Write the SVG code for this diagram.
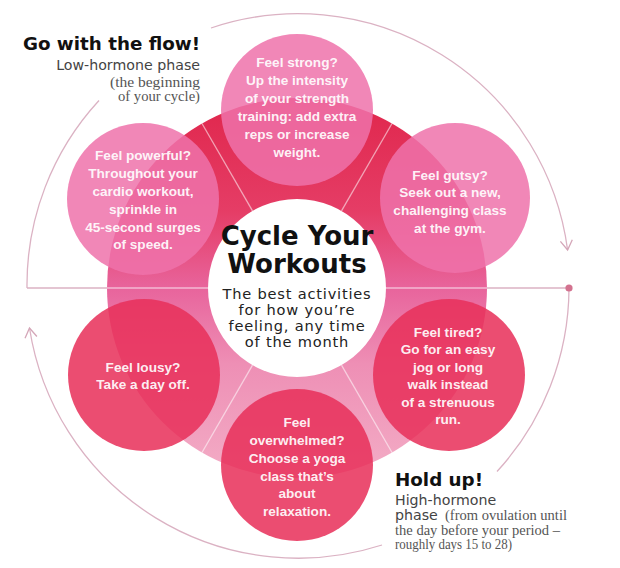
<svg xmlns="http://www.w3.org/2000/svg" width="620" height="568" viewBox="0 0 620 568">
<style>
.ct{font-family:"Liberation Sans",Arial,sans-serif;font-weight:bold;font-size:13.6px;fill:#fff;fill-opacity:0.93;text-anchor:middle}
.hd{font-family:"DejaVu Sans",sans-serif;font-weight:bold;font-size:18.3px;fill:#111}
.sb{font-family:"DejaVu Sans",sans-serif;font-size:14.2px;fill:#444}
.sf{font-family:"Liberation Serif","Times New Roman",serif;font-size:13.6px;fill:#555}
.arc{fill:none;stroke:#dbb2c3;stroke-width:1.3}
.rl{stroke:#ffffff;stroke-opacity:0.55;stroke-width:1.3}
.up{fill:#ee72aa;fill-opacity:0.85}
.lo{fill:#e8305a;fill-opacity:0.86}
.mt{font-family:"DejaVu Sans",sans-serif;font-weight:bold;font-size:26px;fill:#111;text-anchor:middle}
.ms{font-family:"DejaVu Sans",sans-serif;font-size:14.6px;letter-spacing:0.8px;fill:#222;text-anchor:middle}
</style>
<defs>
<linearGradient id="ringG" gradientUnits="userSpaceOnUse" x1="0" y1="98" x2="0" y2="478">
<stop offset="0" stop-color="#e0264c"/>
<stop offset="0.3" stop-color="#e53d66"/>
<stop offset="0.5" stop-color="#e8649c"/>
<stop offset="0.7" stop-color="#ee8fb5"/>
<stop offset="1" stop-color="#f3adc6"/>
</linearGradient>
<marker id="arr" viewBox="-11 -7 13 14" refX="0" refY="0" markerWidth="13" markerHeight="14" orient="auto" markerUnits="userSpaceOnUse">
<path d="M-9.5,-6 L0,0 L-9.5,6" fill="none" stroke="#d4a6b8" stroke-width="1.3"/>
</marker>
</defs>
<rect width="620" height="568" fill="#fff"/>

<g id="connectors">
<path class="arc" d="M27 288 A272 272 0 0 1 99 100.5"/>
<path class="arc" d="M211 28 A272 272 0 0 1 567.6 250" marker-end="url(#arr)"/>
<path class="arc" d="M569 288 A272 272 0 0 1 497 471.5"/>
<path class="arc" d="M382 545 A272 272 0 0 1 29.5 328" marker-end="url(#arr)"/>
<line class="arc" x1="27" y1="288" x2="107" y2="288"/>
<line class="arc" x1="487" y1="288" x2="569" y2="288"/>
<circle cx="569" cy="288" r="3.6" fill="#d3728f"/>
</g>

<g id="ring">
<circle cx="297" cy="288" r="190" fill="url(#ringG)"/>
<line class="rl" x1="341.5" y1="210.9" x2="392" y2="123.5"/>
<line class="rl" x1="252.5" y1="210.9" x2="202" y2="123.5"/>
<line class="rl" x1="252.5" y1="365.1" x2="202" y2="452.5"/>
<line class="rl" x1="341.5" y1="365.1" x2="392" y2="452.5"/>
<line class="rl" x1="107" y1="288" x2="208" y2="288"/>
<line class="rl" x1="386" y1="288" x2="487" y2="288"/>
</g>

<g id="node-strong">
<circle class="up" cx="297" cy="110" r="76"/>
<text class="ct"><tspan x="297" y="67">Feel strong?</tspan><tspan x="297" y="85">Up the intensity</tspan><tspan x="297" y="103">of your strength</tspan><tspan x="297" y="121">training: add extra</tspan><tspan x="297" y="139">reps or increase</tspan><tspan x="297" y="157">weight.</tspan></text>
</g>

<g id="node-gutsy">
<circle class="up" cx="455" cy="198" r="75"/>
<text class="ct"><tspan x="450" y="180">Feel gutsy?</tspan><tspan x="450" y="197">Seek out a new,</tspan><tspan x="450" y="215">challenging class</tspan><tspan x="450" y="233">at the gym.</tspan></text>
</g>

<g id="node-powerful">
<circle class="up" cx="143" cy="199" r="76"/>
<text class="ct"><tspan x="143" y="160">Feel powerful?</tspan><tspan x="143" y="178">Throughout your</tspan><tspan x="143" y="196">cardio workout,</tspan><tspan x="143" y="214">sprinkle in</tspan><tspan x="143" y="232">45-second surges</tspan><tspan x="143" y="249">of speed.</tspan></text>
</g>

<g id="node-lousy">
<circle class="lo" cx="144" cy="375" r="76"/>
<text class="ct"><tspan x="143" y="372">Feel lousy?</tspan><tspan x="143" y="389">Take a day off.</tspan></text>
</g>

<g id="node-overwhelmed">
<circle class="lo" cx="297" cy="465" r="76"/>
<text class="ct"><tspan x="297" y="427">Feel</tspan><tspan x="297" y="445">overwhelmed?</tspan><tspan x="297" y="463">Choose a yoga</tspan><tspan x="297" y="481">class that’s</tspan><tspan x="297" y="498">about</tspan><tspan x="297" y="516">relaxation.</tspan></text>
</g>

<g id="node-tired">
<circle class="lo" cx="449" cy="375" r="76"/>
<text class="ct"><tspan x="448" y="337">Feel tired?</tspan><tspan x="448" y="354">Go for an easy</tspan><tspan x="448" y="372">jog or long</tspan><tspan x="448" y="389">walk instead</tspan><tspan x="448" y="407">of a strenuous</tspan><tspan x="448" y="424">run.</tspan></text>
</g>

<g id="node-center">
<circle cx="297" cy="288" r="89" fill="#fff"/>
<text class="mt" x="297" y="245">Cycle Your</text>
<text class="mt" x="297" y="273">Workouts</text>
<text class="ms"><tspan x="297" y="299">The best activities</tspan><tspan x="297" y="315">for how you’re</tspan><tspan x="297" y="331">feeling, any time</tspan><tspan x="297" y="347">of the month</tspan></text>
</g>

<g id="label-flow">
<text class="hd" x="200" y="50" text-anchor="end">Go with the flow!</text>
<text class="sb" x="200" y="70" text-anchor="end">Low-hormone phase</text>
<text class="sf" x="200" y="87" text-anchor="end" textLength="90" lengthAdjust="spacingAndGlyphs">(the beginning</text>
<text class="sf" x="200" y="101" text-anchor="end" textLength="82" lengthAdjust="spacingAndGlyphs">of your cycle)</text>
</g>

<g id="label-hold">
<text class="hd" x="395" y="486">Hold up!</text>
<text class="sb" x="395" y="505">High-hormone</text>
<text class="sb" x="395" y="520">phase</text>
<text class="sf" x="445" y="520" textLength="122" lengthAdjust="spacingAndGlyphs">(from ovulation until</text>
<text class="sf" x="395" y="535" textLength="165" lengthAdjust="spacingAndGlyphs">the day before your period –</text>
<text class="sf" x="395" y="549" textLength="117" lengthAdjust="spacingAndGlyphs">roughly days 15 to 28)</text>
</g>
</svg>
